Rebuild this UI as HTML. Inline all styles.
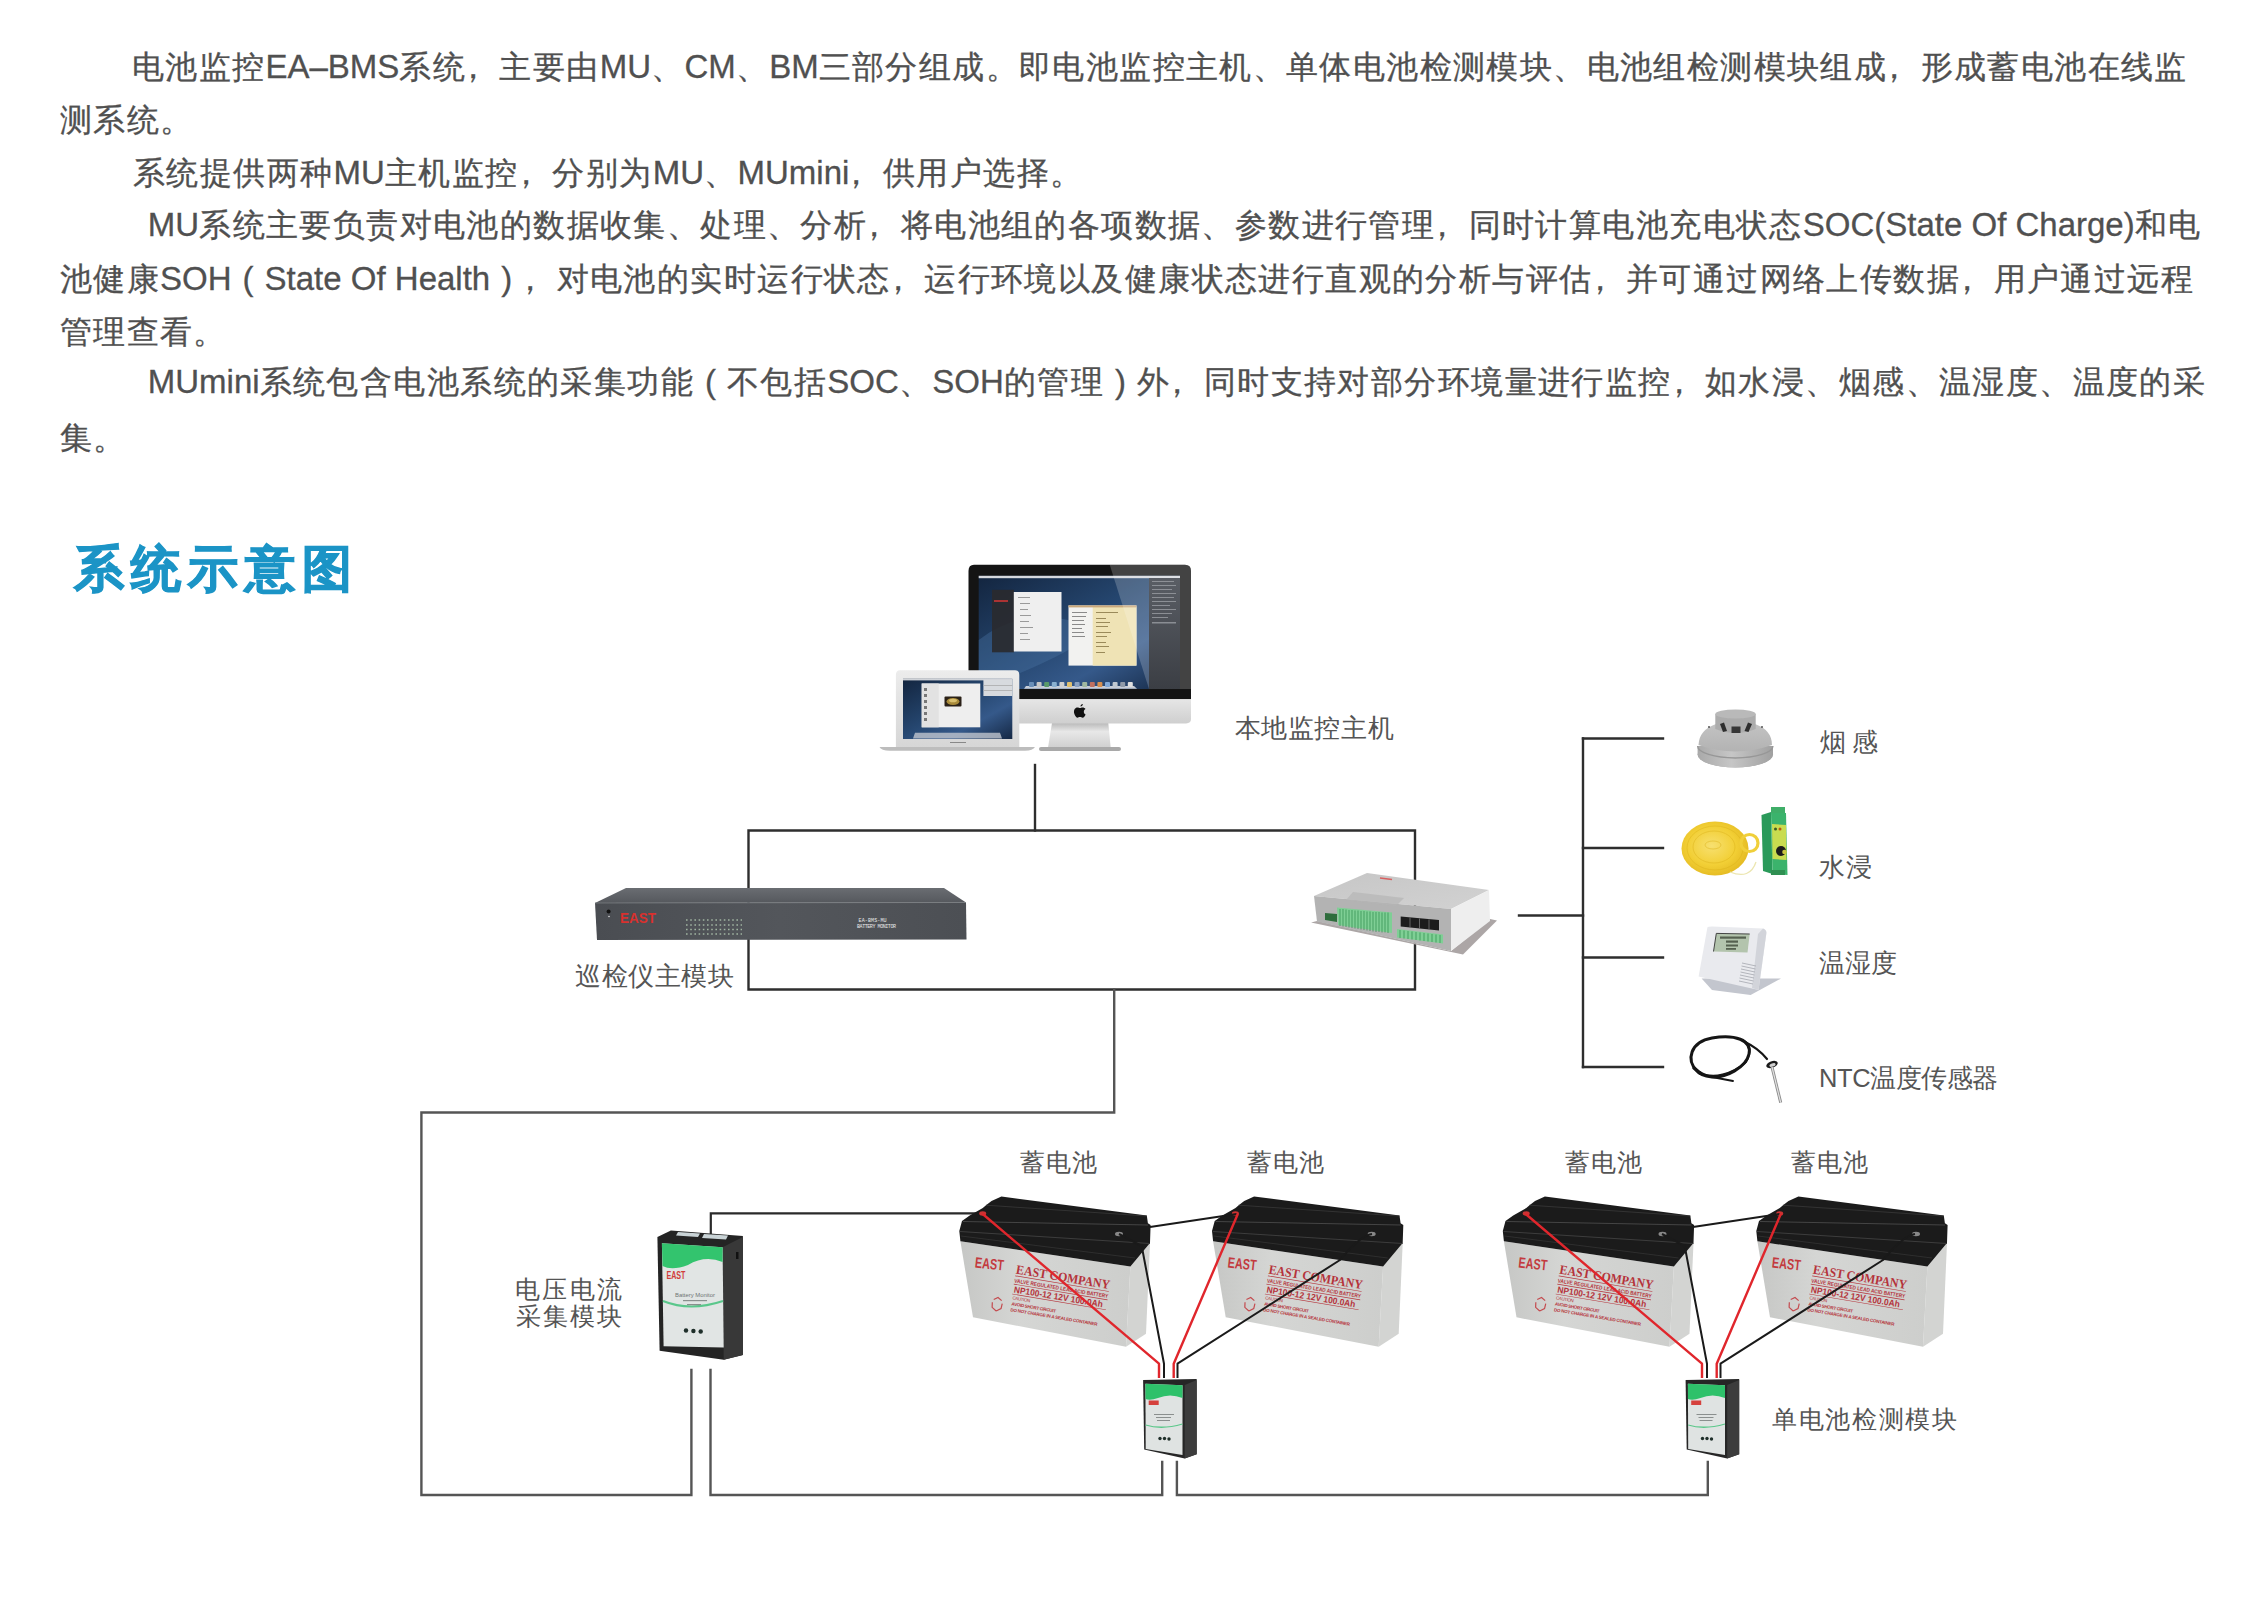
<!DOCTYPE html>
<html><head><meta charset="utf-8">
<style>
html,body{margin:0;padding:0;background:#fff;}
body{width:2241px;height:1601px;position:relative;overflow:hidden;font-family:"Liberation Sans",sans-serif;color:#505050;}
.t{position:absolute;white-space:nowrap;font-size:32px;line-height:40px;-webkit-text-stroke:0.3px #505050;}
.t .e{font-size:33px;letter-spacing:0;}
.lb{position:absolute;white-space:nowrap;font-size:25.5px;line-height:30px;color:#555555;}
#title{position:absolute;left:74px;top:539px;font-size:50px;line-height:60px;font-weight:bold;color:#1b94c6;white-space:nowrap;letter-spacing:7px;-webkit-text-stroke:1.2px #1b94c6;}
svg{position:absolute;left:0;top:0;}
.t .p{position:relative;left:-9px;}
.t .pp{display:inline-block;width:33px;text-align:center;font-size:33px;letter-spacing:0;}

</style></head><body>
<div class="t" style="left:131.80px;top:47.04px;font-size:32px;letter-spacing:1.391px">电池监控<span class="e">EA–BMS</span>系统<span class="p">，</span>主要由<span class="e">MU</span>、<span class="e">CM</span>、<span class="e">BM</span>三部分组成。即电池监控主机、单体电池检测模块、电池组检测模块组成<span class="p">，</span>形成蓄电池在线监</div>
<div class="t" style="left:59.80px;top:100.04px;font-size:32px;letter-spacing:1.400px">测系统。</div>
<div class="t" style="left:132.60px;top:153.04px;font-size:32px;letter-spacing:1.484px">系统提供两种<span class="e">MU</span>主机监控<span class="p">，</span>分别为<span class="e">MU</span>、<span class="e">MUmini</span><span class="p">，</span>供用户选择。</div>
<div class="t" style="left:147.80px;top:204.54px;font-size:32px;letter-spacing:1.408px"><span class="e">MU</span>系统主要负责对电池的数据收集、处理、分析<span class="p">，</span>将电池组的各项数据、参数进行管理<span class="p">，</span>同时计算电池充电状态<span class="e">SOC(State Of Charge)</span>和电</div>
<div class="t" style="left:59.80px;top:259.04px;font-size:32px;letter-spacing:1.417px">池健康<span class="e">SOH</span><span class="pp">(</span><span class="e">State Of Health</span><span class="pp">)</span><span class="p">，</span>对电池的实时运行状态<span class="p">，</span>运行环境以及健康状态进行直观的分析与评估<span class="p">，</span>并可通过网络上传数据<span class="p">，</span>用户通过远程</div>
<div class="t" style="left:59.80px;top:311.54px;font-size:32px;letter-spacing:1.400px">管理查看。</div>
<div class="t" style="left:147.80px;top:361.54px;font-size:32px;letter-spacing:1.415px"><span class="e">MUmini</span>系统包含电池系统的采集功能<span class="pp">(</span>不包括<span class="e">SOC</span>、<span class="e">SOH</span>的管理<span class="pp">)</span>外<span class="p">，</span>同时支持对部分环境量进行监控<span class="p">，</span>如水浸、烟感、温湿度、温度的采</div>
<div class="t" style="left:59.80px;top:417.54px;font-size:32px;letter-spacing:1.400px">集。</div>
<div id="title">系统示意图</div>
<svg width="2241" height="1601" viewBox="0 0 2241 1601">
<!-- connector lines -->
<g fill="none" stroke-linecap="square">
<g stroke="#2e2e2e" stroke-width="2.4">
<path d="M1035 765 V830.5"/>
<path d="M748.5 830.5 H1415 V989.5 H748.5 Z"/>
<path d="M1519 915.5 H1583"/>
<path d="M1583 738.5 V1067"/>
<path d="M1583 738.5 H1663 M1583 848 H1663 M1583 957.5 H1663 M1583 1067 H1663"/>
</g>
<g stroke="#555555" stroke-width="2.4">
<path d="M1114.2 989.5 V1112.5 H421.4 V1495 H691.4 V1370"/>
<path d="M710.5 1370 V1495 H1162.2 V1462"/>
<path d="M1176.9 1462 V1495 H1707.8 V1462"/>
</g>
<g stroke="#2a2a2a" stroke-width="2.2">
<path d="M710.8 1234 V1213.3 H975"/>
</g>
</g>

<!-- iMac -->
<defs>
<linearGradient id="desk" x1="0" y1="0" x2="1" y2="1">
<stop offset="0" stop-color="#13253f"/><stop offset="0.45" stop-color="#25466f"/><stop offset="0.7" stop-color="#35598a"/><stop offset="1" stop-color="#152844"/>
</linearGradient>
<linearGradient id="chin" x1="0" y1="0" x2="0" y2="1">
<stop offset="0" stop-color="#e6e6e6"/><stop offset="1" stop-color="#cfcfcf"/>
</linearGradient>
<linearGradient id="neck" x1="0" y1="0" x2="0" y2="1">
<stop offset="0" stop-color="#b9b9b9"/><stop offset="0.35" stop-color="#e8e8e8"/><stop offset="1" stop-color="#d0d0d0"/>
</linearGradient>
<linearGradient id="lid" x1="0" y1="0" x2="0" y2="1">
<stop offset="0" stop-color="#ececec"/><stop offset="1" stop-color="#d6d6d6"/>
</linearGradient>
<linearGradient id="rpanel" x1="0" y1="0" x2="0" y2="1"><stop offset="0" stop-color="#5a5e65"/><stop offset="1" stop-color="#3b3e44"/></linearGradient>
<linearGradient id="refl" x1="0" y1="0" x2="1" y2="0">
<stop offset="0" stop-color="#fff" stop-opacity="0"/><stop offset="1" stop-color="#fff" stop-opacity="0.22"/>
</linearGradient>
</defs>
<g>
<!-- stand -->
<path d="M1052 723 L1108.3 723 L1110.7 747.6 L1048 747.6 Z" fill="url(#neck)"/>
<rect x="1039" y="747" width="82" height="4" rx="2" fill="#a9a9a9"/>
<!-- bezel -->
<path d="M974 564.8 H1185 Q1191 564.8 1191 571 V699.2 H968.5 V571 Q968.5 564.8 974 564.8 Z" fill="#141414"/>
<!-- chin -->
<path d="M968.5 699.2 H1191 V719 Q1191 723.4 1186 723.4 H973.5 Q968.5 723.4 968.5 719 Z" fill="url(#chin)"/>
<path d="M1080.5 706.5 c1.4-0.2 2.3-1.2 2.4-2.6 c-1.3 0.1-2.5 1-2.4 2.6 z M1085.6 714.5 c-0.8 1.7-1.7 3.2-3 3.2 c-1.1 0-1.4-0.6-2.6-0.6 c-1.2 0-1.6 0.6-2.6 0.6 c-1.4 0-2.9-2.6-3.3-4.6 c-0.6-3.2 1.1-5.6 3.3-5.6 c1.1 0 1.8 0.6 2.6 0.6 c0.8 0 1.4-0.6 2.7-0.6 c1 0 2.1 0.5 2.8 1.5 c-2.4 1.3-2 4.7 0.1 5.5 z" fill="#111"/>
<!-- screen -->
<rect x="978.7" y="575.8" width="201.3" height="113.2" fill="url(#desk)"/>
<path d="M978.7 640 Q1030 600 1100 630 Q1060 660 978.7 689 Z" fill="#4c77a8" opacity="0.35"/>
<rect x="978.7" y="575.8" width="201.3" height="2.4" fill="#d6d9de"/>
<!-- left dark window -->
<rect x="992" y="589.8" width="22" height="62.5" fill="#2a2a2e" opacity="0.9"/>
<rect x="994" y="600" width="14" height="2" fill="#a33"/>
<!-- white window -->
<rect x="1013.8" y="592" width="47.7" height="59.5" fill="#efefef"/>
<g fill="#9a9a9a"><rect x="1018" y="597" width="12" height="1"/><rect x="1020" y="603" width="10" height="1"/><rect x="1020" y="609" width="8" height="1"/><rect x="1020" y="615" width="11" height="1"/><rect x="1020" y="621" width="9" height="1"/><rect x="1020" y="627" width="13" height="1"/><rect x="1020" y="633" width="8" height="1"/><rect x="1020" y="639" width="10" height="1"/></g>
<!-- notes window -->
<rect x="1068.5" y="605.4" width="68" height="60.2" fill="#f2f2f0"/>
<rect x="1092.7" y="607" width="43.7" height="58.6" fill="#efe3b5"/>
<rect x="1068.5" y="605.4" width="68" height="2" fill="#c9a77a"/>
<g fill="#8a8a8a"><rect x="1072" y="612" width="15" height="1"/><rect x="1072" y="616" width="14" height="1"/><rect x="1072" y="620" width="12" height="1"/><rect x="1072" y="624" width="13" height="1"/><rect x="1072" y="628" width="10" height="1"/><rect x="1072" y="632" width="12" height="1"/><rect x="1072" y="636" width="13" height="1"/></g>
<g fill="#9a8a5a"><rect x="1096" y="612" width="22" height="1"/><rect x="1096" y="618" width="10" height="1"/><rect x="1096" y="622" width="14" height="1"/><rect x="1096" y="626" width="12" height="1"/><rect x="1096" y="632" width="15" height="1"/><rect x="1096" y="636" width="11" height="1"/><rect x="1096" y="642" width="10" height="1"/><rect x="1096" y="646" width="13" height="1"/><rect x="1096" y="652" width="9" height="1"/></g>
<!-- right panel -->

<!-- dock -->
<path d="M1024 688.8 L1026 686 H1134 L1137 688.8 Z" fill="#d8dce2" opacity="0.9"/>
<g><rect x="1029.0" y="682" width="5" height="5" rx="1" fill="#6a8fb8"/><rect x="1036.6" y="682" width="5" height="5" rx="1" fill="#c8c8c8"/><rect x="1044.2" y="682" width="5" height="5" rx="1" fill="#5a9a6a"/><rect x="1051.8" y="682" width="5" height="5" rx="1" fill="#8ab0d0"/><rect x="1059.4" y="682" width="5" height="5" rx="1" fill="#d0d0d0"/><rect x="1067.0" y="682" width="5" height="5" rx="1" fill="#e0c070"/><rect x="1074.6" y="682" width="5" height="5" rx="1" fill="#88a0c0"/><rect x="1082.2" y="682" width="5" height="5" rx="1" fill="#a0b8a0"/><rect x="1089.8" y="682" width="5" height="5" rx="1" fill="#c07060"/><rect x="1097.4" y="682" width="5" height="5" rx="1" fill="#d89050"/><rect x="1105.0" y="682" width="5" height="5" rx="1" fill="#80a8d8"/><rect x="1112.6" y="682" width="5" height="5" rx="1" fill="#c0c8d0"/><rect x="1120.2" y="682" width="5" height="5" rx="1" fill="#909aa8"/><rect x="1127.8" y="682" width="5" height="5" rx="1" fill="#e0e0e0"/></g>
<!-- reflection -->
<path d="M1109.7 564.8 H1185 Q1191 564.8 1191 571 V689 H1149 Z" fill="#fff" opacity="0.2"/>
<rect x="1149" y="578" width="31" height="111" fill="url(#rpanel)"/>
<g fill="#9a9da3" opacity="0.8"><rect x="1152" y="581" width="22" height="1"/><rect x="1152" y="585" width="24" height="1"/><rect x="1152" y="589" width="20" height="1"/><rect x="1152" y="593" width="24" height="1"/><rect x="1152" y="597" width="22" height="1"/><rect x="1152" y="601" width="24" height="1"/><rect x="1152" y="605" width="18" height="1"/><rect x="1152" y="609" width="24" height="1"/><rect x="1152" y="613" width="20" height="1"/><rect x="1152" y="617" width="16" height="1"/><rect x="1152" y="622" width="24" height="1.5"/></g>
</g>
<!-- MacBook -->
<g>
<path d="M900 670.3 H1015 Q1019.3 670.3 1019.3 675 V747.6 H895.9 V675 Q895.9 670.3 900 670.3 Z" fill="url(#lid)"/>
<rect x="903" y="678.8" width="109.3" height="60.2" fill="url(#desk)"/>
<rect x="903" y="678.8" width="109.3" height="1.6" fill="#d0d3d8"/>
<rect x="921.7" y="683.5" width="58.6" height="43.8" fill="#eeeeee"/>
<rect x="921.7" y="683.5" width="17" height="43.8" fill="#e2e2e2"/>
<g fill="#777"><rect x="924" y="688" width="3" height="3"/><rect x="924" y="694" width="3" height="3"/><rect x="924" y="700" width="3" height="3"/><rect x="924" y="706" width="3" height="3"/><rect x="924" y="712" width="3" height="3"/><rect x="924" y="718" width="3" height="3"/></g>
<rect x="944.5" y="696.5" width="17" height="10" rx="1" fill="#2a2118"/>
<ellipse cx="953" cy="701.5" rx="6.5" ry="3.5" fill="#a88a3a"/>
<ellipse cx="953" cy="700.5" rx="4" ry="1.8" fill="#d9c070"/>
<rect x="983.4" y="679.6" width="28.9" height="16.4" fill="#d7dade"/>
<rect x="983.4" y="685" width="28.9" height="0.8" fill="#aaa"/>
<rect x="983.4" y="690" width="28.9" height="0.8" fill="#aaa"/>
<path d="M913 738.5 L915 732.7 H1000 L1002 738.5 Z" fill="#c0c6ce" opacity="0.8"/>
<path d="M879.5 747 H1035 Q1033 750.7 1025 750.7 H890 Q881 750.7 879.5 747 Z" fill="#bdbdbd"/>
<rect x="950" y="742" width="16" height="1" fill="#888"/>
</g>

<!-- rack MU -->
<defs>
<linearGradient id="racktop" x1="0" y1="0" x2="0" y2="1">
<stop offset="0" stop-color="#6a6d72"/><stop offset="1" stop-color="#55585d"/>
</linearGradient>
<linearGradient id="rackfront" x1="0" y1="0" x2="1" y2="0">
<stop offset="0" stop-color="#4a4d52"/><stop offset="0.5" stop-color="#53565b"/><stop offset="1" stop-color="#4c4f54"/>
</linearGradient>
</defs>
<g>
<path d="M626 888 L944 888 L966 902.5 L595 903 Z" fill="url(#racktop)"/>
<path d="M595 903 L966 902.5 L966.5 939.5 L597 940 Z" fill="url(#rackfront)"/>
<path d="M595 903 L966 902.5" stroke="#7a7d82" stroke-width="0.8"/>
<circle cx="608.6" cy="911.5" r="2" fill="#111"/>
<circle cx="609" cy="916.5" r="0.8" fill="#ddd"/>
<text x="620" y="923" font-family="Liberation Sans" font-weight="bold" font-size="15" fill="#d8312e" textLength="36" lengthAdjust="spacingAndGlyphs">EAST</text>
<g stroke="#a9bfa9" stroke-width="1.6" stroke-dasharray="1.6 2.6" opacity="0.9">
<path d="M686 920 H742 M686 925 H742 M686 929.5 H742 M686 934 H742"/>
</g>
<text x="858.6" y="922" font-family="Liberation Mono" font-size="5" fill="#e8e8e8" textLength="28">EA-BMS-MU</text>
<text x="857" y="928" font-family="Liberation Mono" font-size="5" fill="#e8e8e8" textLength="39">BATTERY MONITOR</text>
</g>
<!-- MUmini device -->
<defs>
<linearGradient id="devtop" x1="0" y1="0" x2="1" y2="1">
<stop offset="0" stop-color="#c6c6c6"/><stop offset="1" stop-color="#d2d2d2"/>
</linearGradient>
</defs>
<g>
<path d="M1311 922.5 L1463 954.5 L1497 920.5 L1490 919 L1451 951 L1317 921 Z" fill="#aca6a6"/>
<path d="M1314 896 L1367 873 L1489 890 L1451 909 Z" fill="url(#devtop)"/>
<path d="M1314 896 L1451 909 L1451 951 L1317 921.5 Z" fill="#b3b3b3"/>
<path d="M1451 909 L1489 890 L1490 921 L1451 951 Z" fill="#eeeeee"/>
<path d="M1380 878 L1392 879.5" stroke="#d86060" stroke-width="1.5"/>
<path d="M1353 892 L1404 898 L1396 906 L1346 900 Z" fill="#b5b5b5" opacity="0.7"/>
<path d="M1337 907.5 L1392 912.5 L1392 933 L1338 925 Z" fill="#7fcf95"/>
<g stroke="#2e8a4a" stroke-width="0.7">
<path d="M1340 909 V926 M1343 909 V926.5 M1346 909.5 V927 M1349 910 V927.5 M1352 910 V928 M1355 910.5 V928.5 M1358 910.5 V929 M1361 911 V929.5 M1364 911 V930 M1367 911.5 V930.5 M1370 911.5 V931 M1373 912 V931.5 M1376 912 V932 M1379 912 V932 M1382 912.5 V932.5 M1385 912.5 V932.5 M1388 912.5 V933"/>
</g>
<path d="M1325 913 L1337 914 L1337 922 L1325 920 Z" fill="#2f6d3d"/>
<path d="M1400.7 916.5 L1439 920 L1439 930.5 L1400.7 926.5 Z" fill="#1c1c1c"/>
<path d="M1410 917.5 V927.5 M1419.5 918.5 V928.5 M1429 919.5 V929.5" stroke="#777" stroke-width="0.8"/>
<path d="M1397 929 L1443 934.5 L1443 943.5 L1397 937.5 Z" fill="#7fcf95"/>
<g stroke="#2e8a4a" stroke-width="0.7"><path d="M1400 930 V938 M1404 930.5 V938.5 M1408 931 V939 M1412 931.5 V939.5 M1416 932 V940 M1420 932.5 V940.5 M1424 933 V941 M1428 933.5 V941.5 M1432 934 V942 M1436 934.5 V942.5 M1440 935 V943"/></g>
</g>

<!-- sensors -->
<defs>
<linearGradient id="smk" x1="0" y1="0" x2="1" y2="0">
<stop offset="0" stop-color="#a9a9a9"/><stop offset="0.45" stop-color="#c6c6c6"/><stop offset="1" stop-color="#a0a0a0"/>
</linearGradient>
<radialGradient id="coil" cx="0.45" cy="0.45" r="0.6">
<stop offset="0" stop-color="#f7e070"/><stop offset="0.6" stop-color="#f2cf35"/><stop offset="1" stop-color="#e3b820"/>
</radialGradient>
</defs>
<g>
<!-- smoke detector -->
<defs>
<linearGradient id="smkdome" x1="0" y1="0" x2="0" y2="1">
<stop offset="0" stop-color="#c2c2c2"/><stop offset="1" stop-color="#b3b3b3"/>
</linearGradient>
</defs>
<ellipse cx="1735.3" cy="754.5" rx="37.7" ry="13" fill="#a9a9a9"/>
<path d="M1697.6 746 V754.5 A37.7 13 0 0 0 1773 754.5 V746 Z" fill="url(#smk)"/>
<path d="M1697.6 746 A37.7 12 0 0 0 1773 746" fill="none" stroke="#979797" stroke-width="1.3"/>
<path d="M1698.5 745 Q1699 730 1716 724 L1755 724 Q1772 730 1772 745 Q1735 758 1698.5 745 Z" fill="url(#smkdome)"/>
<path d="M1715.3 714 V729 Q1735.5 737 1755.7 729 V714 Z" fill="#acacac"/>
<ellipse cx="1735.5" cy="714" rx="20.2" ry="4.6" fill="#b9b9b9"/>
<path d="M1720 724 L1724 722.5 L1727 731 L1723 732 Z" fill="#2e2e2e"/>
<rect x="1731.5" y="726.5" width="9" height="6.5" fill="#363636"/>
<path d="M1748 722.5 L1752 724 L1748.5 732 L1744.5 731 Z" fill="#2e2e2e"/>
<circle cx="1709" cy="727" r="1" fill="#555"/><circle cx="1762" cy="727" r="1" fill="#555"/>
<!-- water sensor -->
<ellipse cx="1715" cy="848.5" rx="33.5" ry="27" fill="url(#coil)"/>
<g fill="none" stroke="#dcb21a" stroke-width="0.8" opacity="0.6">
<ellipse cx="1715" cy="848" rx="28" ry="22"/>
<ellipse cx="1714" cy="847" rx="21" ry="16"/>
<ellipse cx="1713" cy="845" rx="8" ry="4"/>
</g>
<circle cx="1749.5" cy="843" r="8.5" fill="none" stroke="#f0cf3a" stroke-width="3.2"/>
<path d="M1730 872 Q1750 880 1756 862" fill="none" stroke="#ece6b0" stroke-width="1.3"/>
<path d="M1761.5 815 L1771 812 L1772.5 874 L1763 871 Z" fill="#2a9a5a"/>
<path d="M1771 812 L1786 813 L1787.5 875 L1772.5 874 Z" fill="#3bb36c"/>
<rect x="1771" y="807" width="14" height="6" fill="#3fae68"/>
<rect x="1771" y="870" width="14" height="5" fill="#2f8f52"/>
<path d="M1772 824 L1786 825 L1786.5 860 L1772.5 859 Z" fill="#c9dc50"/>
<circle cx="1775.5" cy="829" r="1.5" fill="#3a5a20"/>
<circle cx="1780" cy="829" r="1.5" fill="#b85a10"/>
<circle cx="1781" cy="851" r="5" fill="#1c1c1c"/>
<circle cx="1784.5" cy="852" r="2.3" fill="#c9c840"/>
<!-- thermo hygrometer -->
<path d="M1701.6 978.5 L1781 978.5 L1750.6 995 L1712 990 Z" fill="#c3c6ce"/>
<path d="M1707.4 927.5 Q1708 926.5 1712 926.5 L1763 928.5 Q1766.5 929.5 1766.4 933 L1758.5 990 L1698.6 976.6 Z" fill="#e9eaee"/>
<path d="M1763 928.5 Q1766.5 929.5 1766.4 933 L1758.5 990 L1752 988 L1758 934 Z" fill="#d2d4da"/>
<path d="M1716.3 933.4 L1749.7 934 L1747.5 952.5 L1713.5 951.5 Z" fill="#b3c4ad"/>
<path d="M1713.5 951.5 L1716.3 933.4 L1749.7 934" fill="none" stroke="#333" stroke-width="0.9"/>
<g fill="#55604f"><rect x="1720" y="936.5" width="26" height="2.2"/><rect x="1726" y="940.5" width="12" height="2.2"/><rect x="1726" y="944.5" width="12" height="2"/><rect x="1726" y="948" width="10" height="1.8"/></g>
<g stroke="#a4a7ae" stroke-width="0.8"><path d="M1742 963 L1756 966 M1741.5 966 L1755.5 969 M1741 969 L1755 972 M1740.5 972 L1754.5 975 M1740 975 L1754 978 M1739.5 978 L1753.5 981 M1739 981 L1753 984"/></g>
<!-- NTC probe -->
<g fill="none" stroke="#151515" stroke-linecap="round">
<path d="M1697 1071 C1686 1060 1690 1042 1712 1038 C1735 1034 1752 1040 1749 1054 C1746 1068 1725 1078 1712 1077 C1704 1076 1699 1074 1697 1071" stroke-width="3"/>
<path d="M1700 1072 C1712 1080 1733 1074 1746 1062 C1752 1052 1750 1044 1742 1040" stroke-width="2"/>
<path d="M1745 1042 Q1758 1048 1767 1059" stroke-width="2.2"/>
<path d="M1712 1077 L1733 1081" stroke-width="1.8"/>
<path d="M1694 1068 L1700 1073" stroke-width="3.5"/>
</g>
<ellipse cx="1772" cy="1064.5" rx="6" ry="3.2" fill="#1a1a1a" transform="rotate(-20 1772 1064.5)"/>
<ellipse cx="1772.5" cy="1065" rx="3.2" ry="1.6" fill="#d0d0d0" transform="rotate(-20 1772.5 1065)"/>
<path d="M1772 1067 L1780.7 1102.6" stroke="#8a8a8a" stroke-width="3"/>
<path d="M1772 1067 L1780.7 1102.6" stroke="#e2e2e2" stroke-width="1.2"/>
</g>

<!-- battery definitions -->
<defs>
<linearGradient id="bfront" x1="0" y1="0" x2="1" y2="0">
<stop offset="0" stop-color="#c6c7c5"/><stop offset="0.35" stop-color="#d5d6d4"/><stop offset="1" stop-color="#cdcecc"/>
</linearGradient>
<g id="batt">
<!-- right side face -->
<path d="M1130.4 1266.4 L1150 1243 L1146 1333.7 L1126 1346.8 Z" fill="#d3d4d2"/>
<!-- front face -->
<path d="M960.4 1241.3 L1130.4 1266.4 L1126 1346.8 L973 1317.3 Z" fill="url(#bfront)"/>
<!-- lid -->
<path d="M959.3 1230.9 L962 1221 L969.7 1215.6 L982.8 1208 L986 1205.2 L991.5 1200.9 L1001.4 1196.5 L1146.8 1215.6 L1147.9 1223.3 L1150.6 1224.9 L1150 1243 L1130.4 1266.4 L960.4 1241.3 Z" fill="#1b1b1b"/>
<path d="M963 1221.5 L1148 1225" stroke="#454545" stroke-width="1"/>
<path d="M960 1231.5 L1150 1243.5" stroke="#3d3d3d" stroke-width="1"/>
<path d="M961 1236 L1135 1258" stroke="#333" stroke-width="0.8"/>
<path d="M986 1205.2 L1146.8 1216" stroke="#383838" stroke-width="0.8"/>
<ellipse cx="1119" cy="1234" rx="4" ry="2.2" fill="#888"/>
<ellipse cx="982.7" cy="1213.5" rx="3.5" ry="2.2" fill="#c33"/>
<!-- labels -->
<g fill="#c33a3e" font-family="Liberation Sans">
<text x="0" y="0" font-size="15" font-weight="bold" transform="translate(974.5 1267.5) rotate(6)" textLength="29" lengthAdjust="spacingAndGlyphs">EAST</text>
</g>
<g fill="#b5333b" transform="translate(1015.6 1273.5) rotate(9.5)">
<text x="0" y="0" font-family="Liberation Serif" font-weight="bold" font-size="13" textLength="95" lengthAdjust="spacingAndGlyphs">EAST COMPANY</text>
<rect x="0" y="2" width="95" height="0.7"/>
<text x="0" y="9" font-family="Liberation Sans" font-weight="bold" font-size="5.5" textLength="95" lengthAdjust="spacingAndGlyphs">VALVE REGULATED LEAD ACID BATTERY</text>
<rect x="0" y="10.5" width="95" height="0.6"/>
<text x="1" y="19" font-family="Liberation Sans" font-weight="bold" font-size="9" textLength="90" lengthAdjust="spacingAndGlyphs">NP100-12  12V 100.0Ah</text>
<rect x="0" y="20.5" width="95" height="0.6"/>
<text x="1" y="26" font-family="Liberation Sans" font-size="4.5" textLength="18">CAUTION</text>
<text x="1" y="32" font-family="Liberation Sans" font-weight="bold" font-size="4.5" textLength="45">AVOID SHORT CIRCUIT</text>
<text x="1" y="38" font-family="Liberation Sans" font-weight="bold" font-size="4.5" textLength="88">DO NOT CHARGE IN A SEALED CONTAINER</text>
</g>
<g fill="none" stroke="#c44a4e" stroke-width="1.2" transform="translate(997 1305) rotate(8)">
<path d="M-4 -5 L0 -7.5 L4 -5 M5 -2 L4.5 3 L0 6 M-5 -2 L-4.5 3 L0 6"/>
</g>
</g>
<g id="mod">
<!-- small single-battery module -->
<path d="M1143.1 1380 L1196.7 1378.9 L1196.7 1454.2 L1184.7 1458.6 L1144.2 1449.5 Z" fill="#262626"/>
<path d="M1184.7 1385 L1196.7 1380 L1196.7 1454.2 L1184.7 1458.6 Z" fill="#3c3c3c"/>
<path d="M1145.4 1383.7 L1182.5 1385.2 L1182.5 1455 L1145.7 1449 Z" fill="#dfe3e2"/>
<path d="M1145.4 1383.7 L1182.5 1385.2 L1182.5 1398 Q1170 1393 1158 1398 Q1150 1401 1145.5 1399 Z" fill="#2ec16a"/>
<path d="M1145.6 1425 Q1162 1430 1182.5 1424" fill="none" stroke="#5bc88a" stroke-width="1.3"/>
<rect x="1148.7" y="1400.5" width="10" height="4.5" fill="#d5413d"/>
<g fill="#8a8f8e"><rect x="1154" y="1414" width="20" height="1"/><rect x="1156" y="1417" width="15" height="1"/><rect x="1157" y="1420" width="13" height="1"/></g>
<circle cx="1160" cy="1438.5" r="1.7" fill="#1f2f2a"/>
<circle cx="1164.5" cy="1438.5" r="1.7" fill="#1f2f2a"/>
<circle cx="1169" cy="1439" r="1.7" fill="#1f2f2a"/>
</g>
</defs>

<!-- batteries placement -->
<use href="#batt"/>
<use href="#batt" transform="translate(252.7 0)"/>
<use href="#batt" transform="translate(543.5 0)"/>
<use href="#batt" transform="translate(797 0)"/>
<g id="wires">
<g fill="none" stroke-linejoin="round">
<path d="M1150 1227 L1236.6 1214" stroke="#1a1a1a" stroke-width="2"/>
<path d="M982.7 1214 L1159 1363.7 V1378" stroke="#e0262c" stroke-width="2.4"/>
<path d="M1119 1234 L1141.7 1246 L1164 1363.7 V1378" stroke="#1a1a1a" stroke-width="2"/>
<path d="M1237.8 1214 L1173.7 1363.7 V1378" stroke="#e0262c" stroke-width="2.4"/>
<path d="M1372 1234 Q1360 1236 1340 1260 L1177.5 1363.7 V1378" stroke="#1a1a1a" stroke-width="2"/>
</g>
</g>
<use href="#wires" transform="translate(543 0)"/>
<use href="#mod"/>
<use href="#mod" transform="translate(542.5 0)"/>
<!-- voltage current module -->
<g>
<path d="M657.4 1237 L670.9 1230.4 L742.9 1236 L742.9 1355 L723.7 1359.7 L659.6 1350.7 Z" fill="#242424"/>
<path d="M722.6 1247.2 L742.9 1237 L742.9 1355 L723.7 1359.7 Z" fill="#383838"/>
<path d="M678 1232 L700 1233.5 L698 1237 L676 1235.5 Z" fill="#c9d3d6"/>
<path d="M704 1234 L728 1235.5 L726 1239.5 L702 1238 Z" fill="#c9d3d6"/>
<path d="M661.9 1243.3 L722.6 1247.2 L723.7 1347.4 L663.6 1346.2 Z" fill="#e1e5e4"/>
<path d="M661.9 1243.3 L722.6 1247.2 L722.6 1262 Q705 1255 688 1265 Q672 1271 662.5 1266 Z" fill="#33c46e"/>
<path d="M663 1301 Q690 1312 723 1301" fill="none" stroke="#5ac78b" stroke-width="2"/>
<text x="666.4" y="1279" font-family="Liberation Sans" font-weight="bold" font-size="11" fill="#d13d3a" textLength="19" lengthAdjust="spacingAndGlyphs">EAST</text>
<text x="675" y="1297" font-family="Liberation Sans" font-size="6" fill="#6f7473" textLength="40" lengthAdjust="spacingAndGlyphs">Battery Monitor</text>
<g fill="#8a8f8e"><rect x="683" y="1300" width="24" height="1.2"/><rect x="687" y="1304" width="14" height="1.2"/></g>
<circle cx="686" cy="1330.5" r="2.2" fill="#1f2f2a"/>
<circle cx="693.4" cy="1331" r="2.2" fill="#1f2f2a"/>
<circle cx="700.7" cy="1331.5" r="2.2" fill="#1f2f2a"/>
<rect x="736" y="1252" width="2.5" height="7" fill="#111"/>
</g>

</svg>
<div class="lb" style="left:1234.60px;top:712.53px;font-size:25.5px;letter-spacing:0.600px">本地监控主机</div>
<div class="lb" style="left:575.00px;top:960.74px;font-size:25.5px;letter-spacing:0.600px">巡检仪主模块</div>
<div class="lb" style="left:1820.00px;top:726.74px;font-size:25.5px;letter-spacing:-0.500px">烟 感</div>
<div class="lb" style="left:1819.00px;top:851.74px;font-size:25.5px;letter-spacing:1.000px">水浸</div>
<div class="lb" style="left:1819.00px;top:948.34px;font-size:25.5px;letter-spacing:0.000px">温湿度</div>
<div class="lb" style="left:1819.00px;top:1062.73px;font-size:25.5px;letter-spacing:-0.429px"><span class="e">NTC</span>温度传感器</div>
<div class="lb" style="left:515.00px;top:1274.77px;font-size:24.5px;letter-spacing:2.333px">电压电流</div>
<div class="lb" style="left:516.00px;top:1302.17px;font-size:24.5px;letter-spacing:2.000px">采集模块</div>
<div class="lb" style="left:1020.20px;top:1147.97px;font-size:24.5px;letter-spacing:1.000px">蓄电池</div>
<div class="lb" style="left:1247.00px;top:1147.97px;font-size:24.5px;letter-spacing:1.000px">蓄电池</div>
<div class="lb" style="left:1565.40px;top:1147.97px;font-size:24.5px;letter-spacing:1.000px">蓄电池</div>
<div class="lb" style="left:1791.00px;top:1147.97px;font-size:24.5px;letter-spacing:1.000px">蓄电池</div>
<div class="lb" style="left:1772.00px;top:1404.77px;font-size:24.5px;letter-spacing:1.667px">单电池检测模块</div>
</body></html>
